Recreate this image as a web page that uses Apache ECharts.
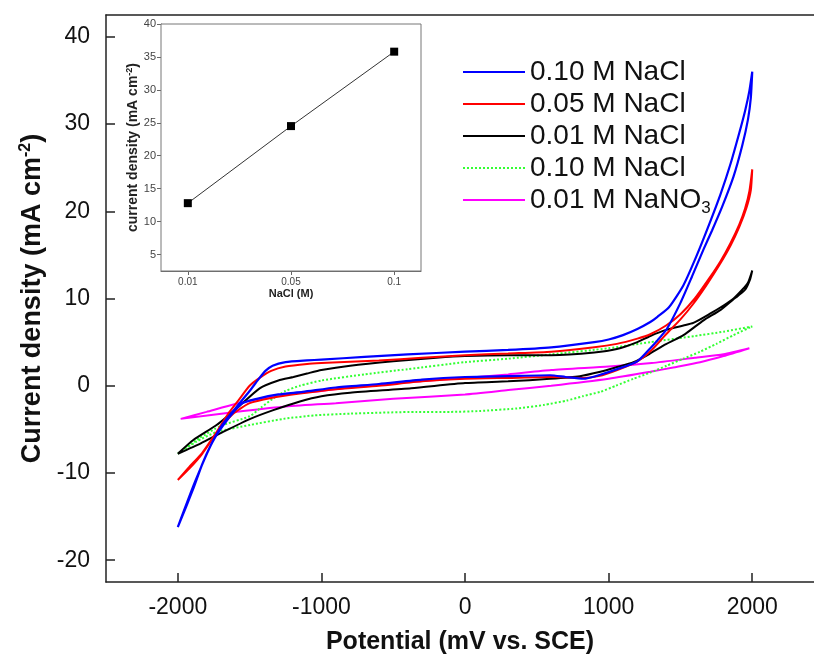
<!DOCTYPE html>
<html><head><meta charset="utf-8">
<script src="https://cdn.jsdelivr.net/npm/echarts@6/dist/echarts.min.js"></script>
<style>html,body{margin:0;padding:0;background:#fff}#c{width:814px;height:660px}</style>
</head><body><div id="c"></div>
<script>
// ---- data ----
const xTicks = [-2000, -1000, 0, 1000, 2000];
const yTicks = [-20, -10, 0, 10, 20, 30, 40];
const seriesNames = ['0.10 M NaCl', '0.05 M NaCl', '0.01 M NaCl', '0.10 M NaCl ', '0.01 M NaNO3'];

const nacl010 = [[-2000,-16.2],[-1940,-13.8],[-1890,-11.7],[-1830,-9.0],[-1770,-6.8],[-1710,-5.0],[-1660,-3.8],[-1580,-2.2],[-1500,-0.6],[-1440,0.7],[-1390,1.7],[-1340,2.3],[-1250,2.7],[-1100,2.9],[-1000,3.0],[-700,3.3],[-400,3.6],[0,3.9],[300,4.1],[600,4.4],[900,5.0],[1000,5.3],[1100,5.8],[1200,6.5],[1290,7.3],[1340,7.9],[1420,9.0],[1520,11.5],[1610,14.8],[1700,18.5],[1780,22.0],[1850,25.5],[1910,29.0],[1950,31.5],[1980,33.8],[2000,36.0],
  [1990,33.0],[1970,30.5],[1930,27.5],[1870,24.0],[1790,20.5],[1720,17.8],[1660,15.6],[1580,12.5],[1500,9.5],[1405,6.5],[1340,5.2],[1290,4.3],[1200,2.8],[1060,1.9],[930,1.2],[825,0.8],[700,1.0],[593,1.2],[300,1.1],[0,1.0],[-300,0.7],[-600,0.2],[-900,-0.2],[-1130,-0.7],[-1300,-1.0],[-1450,-1.5],[-1550,-2.0],[-1650,-3.8],[-1760,-6.5],[-1880,-11.0],[-2000,-16.2]];

const nacl005 = [[-2000,-10.8],[-1920,-9.3],[-1840,-7.9],[-1730,-5.3],[-1640,-3.0],[-1570,-1.5],[-1500,0.0],[-1430,0.9],[-1350,1.7],[-1250,2.2],[-1100,2.5],[-1000,2.6],[-600,2.9],[-300,3.2],[0,3.5],[300,3.7],[600,3.9],[900,4.4],[1057,4.8],[1200,5.4],[1290,5.9],[1400,6.9],[1500,8.2],[1600,10.0],[1700,12.3],[1780,14.3],[1850,16.4],[1910,18.5],[1950,20.3],[1980,22.3],[2000,24.8],
  [1990,22.4],[1960,20.4],[1910,18.2],[1850,16.1],[1770,13.8],[1680,11.5],[1590,9.4],[1500,7.6],[1400,5.9],[1300,4.1],[1200,2.8],[1060,1.8],[930,1.1],[825,0.9],[600,1.0],[300,0.9],[0,0.8],[-300,0.5],[-600,0.0],[-900,-0.4],[-1150,-0.9],[-1350,-1.4],[-1500,-2.0],[-1620,-3.3],[-1720,-5.2],[-1830,-7.8],[-1920,-9.5],[-2000,-10.8]];

const nacl001 = [[-2000,-7.8],[-1890,-6.2],[-1730,-4.5],[-1590,-2.6],[-1430,-0.3],[-1300,0.6],[-1195,1.0],[-1100,1.4],[-1000,1.8],[-800,2.3],[-500,2.8],[-200,3.2],[0,3.4],[300,3.5],[600,3.5],[900,3.8],[1057,4.2],[1200,5.0],[1290,5.7],[1400,6.4],[1521,6.9],[1590,7.2],[1700,8.2],[1800,9.2],[1870,10.0],[1930,11.0],[1970,11.8],[2000,13.2],
  [1985,12.2],[1950,11.0],[1900,10.3],[1868,9.9],[1780,8.7],[1661,7.5],[1521,5.8],[1381,4.6],[1280,3.6],[1173,2.7],[1050,2.1],[942,1.6],[800,1.1],[593,0.8],[300,0.5],[0,0.3],[-375,-0.3],[-800,-0.8],[-1000,-1.2],[-1150,-1.8],[-1335,-2.8],[-1495,-3.8],[-1685,-5.3],[-1840,-6.6],[-2000,-7.8]];

const nacl010b = [[-2000,-7.8],[-1850,-6.0],[-1700,-4.6],[-1500,-3.5],[-1420,-2.5],[-1340,-1.5],[-1250,-0.6],[-1150,0.0],[-1000,0.6],[-700,1.3],[-400,1.9],[0,2.7],[300,3.1],[600,3.6],[1000,4.3],[1290,5.0],[1600,5.7],[1800,6.2],[2000,6.8],
  [1869,5.8],[1750,4.8],[1637,3.9],[1520,3.1],[1405,2.3],[1290,1.5],[1173,0.8],[1050,0.0],[942,-0.7],[820,-1.2],[709,-1.7],[550,-2.2],[361,-2.6],[100,-2.9],[-103,-3.0],[-335,-3.0],[-800,-3.2],[-1050,-3.4],[-1264,-3.8],[-1497,-4.5],[-1729,-5.3],[-1870,-6.4],[-2000,-7.8]];

const nano3001 = [[-1980,-3.8],[-1800,-3.0],[-1600,-2.1],[-1400,-1.4],[-1200,-0.9],[-1000,-0.6],[-800,-0.2],[-400,0.4],[0,0.9],[300,1.3],[600,1.8],[1000,2.2],[1300,2.6],[1600,3.2],[1800,3.6],[1980,4.3],
  [1800,3.4],[1637,2.7],[1450,2.1],[1290,1.6],[1000,0.8],[600,0.0],[300,-0.5],[0,-1.0],[-500,-1.5],[-900,-2.0],[-1264,-2.4],[-1600,-3.0],[-1980,-3.8]];

const insetCategories = ['0.01', '0.05', '0.1'];
const insetValues = [12.8, 24.5, 35.8];
const insetYTicks = [5, 10, 15, 20, 25, 30, 35, 40];

// ---- chart ----
const FONT = "'Liberation Sans', Arial, sans-serif";
const colors = ['#0000ff', '#ff0000', '#000000', '#33ff33', '#ff00ff'];
const curves = [nacl010, nacl005, nacl001, nacl010b, nano3001];
const widths = [2.2, 2, 2, 2, 2];
const types = ['solid', 'solid', 'solid', [2, 2], 'solid'];

const chart = echarts.init(document.getElementById('c'), null, {renderer: 'canvas'});

const mainSeries = curves.map((d, i) => ({
  name: seriesNames[i],
  type: 'line',
  xAxisIndex: 0, yAxisIndex: 0,
  data: d,
  showSymbol: false,
  symbol: 'none',
  smooth: 0.2,
  lineStyle: {color: colors[i], width: widths[i], type: types[i]},
  itemStyle: {color: colors[i]},
  z: 5 - i,
  animation: false
}));

const option = {
  animation: false,
  backgroundColor: '#fff',
  textStyle: {fontFamily: FONT},
  grid: [
    {left: 106, top: 15, right: 0, bottom: 76, show: false},
    {left: 161, top: 24, width: 260, height: 247, show: true, borderColor: '#777', borderWidth: 1, backgroundColor: '#fff', z: 10}
  ],
  legend: {
    left: 457, top: 53, orient: 'vertical',
    itemWidth: 62, itemHeight: 2, itemGap: 4,
    itemStyle: {opacity: 0},
    data: seriesNames,
    textStyle: {fontSize: 28, color: '#111', fontFamily: FONT, lineHeight: 28,
      rich: {sub: {fontSize: 17, fontFamily: FONT, color: '#111', padding: [16, 0, 0, 0]}}},
    formatter: n => n === '0.01 M NaNO3' ? '0.01 M NaNO{sub|3}' : n
  },
  xAxis: [
    {type: 'value', gridIndex: 0, min: -2500, max: 2430,
     axisLine: {show: true, onZero: false, lineStyle: {color: '#222', width: 1.5}},
     axisTick: {show: true, inside: true, length: 9, customValues: xTicks, lineStyle: {color: '#222', width: 1.5}},
     axisLabel: {customValues: xTicks, formatter: v => String(v), fontSize: 23, color: '#111', margin: 14, fontFamily: FONT},
     splitLine: {show: false},
     name: 'Potential (mV vs. SCE)', nameLocation: 'middle', nameGap: 48,
     nameTextStyle: {fontSize: 25, fontWeight: 'bold', color: '#111', fontFamily: FONT}},
    {type: 'value', gridIndex: 1, min: -0.26, max: 2.26,
     axisLine: {show: true, onZero: false, lineStyle: {color: '#666', width: 1}},
     axisTick: {show: true, inside: false, length: 4, customValues: [0, 1, 2], lineStyle: {color: '#666'}},
     axisLabel: {customValues: [0, 1, 2], formatter: v => insetCategories[Math.round(v)], fontSize: 10, color: '#444', margin: 6, fontFamily: FONT},
     splitLine: {show: false},
     name: 'NaCl (M)', nameLocation: 'middle', nameGap: 17,
     nameTextStyle: {fontSize: 11, fontWeight: 'bold', color: '#222', fontFamily: FONT}},
    {type: 'value', gridIndex: 0, position: 'top', min: -2500, max: 2430,
     axisLine: {show: true, onZero: false, lineStyle: {color: '#222', width: 1.5}},
     axisTick: {show: false}, axisLabel: {show: false}, splitLine: {show: false}}
  ],
  yAxis: [
    {type: 'value', gridIndex: 0, min: -22.5, max: 42.5,
     axisLine: {show: true, onZero: false, lineStyle: {color: '#222', width: 1.5}},
     axisTick: {show: true, inside: true, length: 9, customValues: yTicks, lineStyle: {color: '#222', width: 1.5}},
     axisLabel: {customValues: yTicks, fontSize: 23, color: '#111', margin: 16, fontFamily: FONT},
     splitLine: {show: false},
     name: 'Current density (mA cm{sup|-2})', nameLocation: 'middle', nameGap: 58, nameRotate: 90,
     nameTextStyle: {fontSize: 27, fontWeight: 'bold', color: '#111', fontFamily: FONT,
       rich: {sup: {fontSize: 16, fontWeight: 'bold', color: '#111', fontFamily: FONT, padding: [0, 0, 13, 0]}}}},
    {type: 'value', gridIndex: 1, min: 2.5, max: 40,
     axisLine: {show: true, onZero: false, lineStyle: {color: '#666', width: 1}},
     axisTick: {show: true, inside: false, length: 4, customValues: insetYTicks, lineStyle: {color: '#666'}},
     axisLabel: {customValues: insetYTicks, fontSize: 11, color: '#444', margin: 5, fontFamily: FONT},
     splitLine: {show: false},
     name: 'current density (mA cm{sup|-2})', nameLocation: 'middle', nameGap: 20, nameRotate: 90,
     nameTextStyle: {fontSize: 14, fontWeight: 'bold', color: '#222', fontFamily: FONT,
       rich: {sup: {fontSize: 9, fontWeight: 'bold', color: '#222', fontFamily: FONT, padding: [0, 0, 7, 0]}}}}
  ],
  series: mainSeries.concat([{
    name: 'inset',
    type: 'line',
    xAxisIndex: 1, yAxisIndex: 1,
    data: insetValues.map((v, i) => [i, v]),
    symbol: 'rect', symbolSize: 8, showSymbol: true,
    lineStyle: {color: '#333', width: 1},
    itemStyle: {color: '#000'},
    z: 20,
    animation: false
  }])
};
chart.setOption(option);
</script>
</body></html>
